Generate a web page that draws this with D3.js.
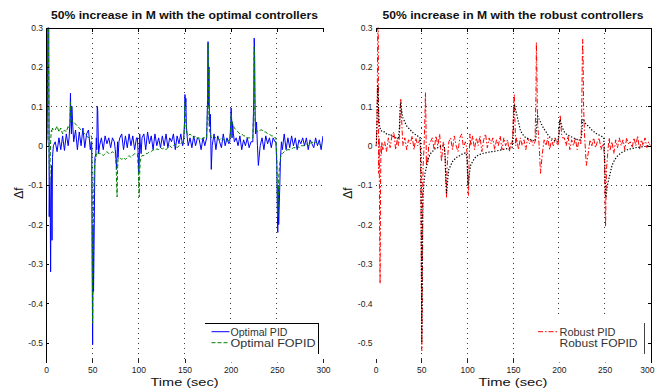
<!DOCTYPE html>
<html>
<head>
<meta charset="utf-8">
<script src="https://cdn.jsdelivr.net/npm/d3@7/dist/d3.min.js"></script>
<style>
  body { margin: 0; background: #fff; }
  svg { display: block; font-family: "Liberation Sans", Arial, Helvetica, sans-serif; }
</style>
</head>
<body>
<svg id="chart" width="655" height="389"></svg>
<script>
// Sample times (sec): 2 s steps between disturbances, 0.5 s steps around them
const time = [
  0, 0.5, 1, 1.5, 2, 2.5, 3, 3.5, 4, 4.5, 5, 5.5, 6, 6.5, 7, 8,
  10, 12, 14, 16, 18, 20, 22, 24,
  25, 26, 26.5, 27, 27.5, 28, 29, 30,
  32, 34, 36, 38, 40, 42, 44, 46, 48,
  49, 49.5, 50, 50.5, 51, 51.5, 52, 53, 54, 54.5, 55, 55.5, 56, 57, 58,
  60, 62, 64, 66, 68, 70, 72, 74,
  75, 76, 76.5, 77, 77.5, 78, 79, 80,
  82, 84, 86, 88, 90, 92, 94, 96, 98,
  99, 100, 100.5, 101, 101.5, 102, 103, 104,
  106, 108, 110, 112, 114, 116, 118, 120, 122, 124, 126,
  128, 130, 132, 134, 136, 138, 140, 142, 144, 146, 148,
  149, 150, 150.5, 151, 151.5, 152, 153, 154,
  156, 158, 160, 162, 164, 166, 168, 170, 172,
  174, 175, 175.5, 176, 176.5, 177, 178, 179, 180,
  182, 184, 186, 188, 190, 192, 194, 196, 198,
  199, 200, 200.5, 201, 201.5, 202, 203, 204,
  206, 208, 210, 212, 214, 216, 218, 220, 222,
  224, 225, 225.5, 226, 226.5, 227, 228, 229, 230,
  232, 234, 236, 238, 240, 242, 244, 246, 248,
  249, 250, 250.5, 251, 251.5, 252, 253, 254, 255, 256,
  258, 260, 262, 264, 266, 268, 270, 272, 274, 276, 278,
  280, 282, 284, 286, 288, 290, 292, 294, 296, 298, 300
];

// Frequency deviation, optimal PID
const optimalPID = [
  0, 0, 0.02, 0.1, 0.3, 0.3, 0.3, -0.18, -0.08, -0.14, -0.32, -0.1, -0.05, -0.24, -0.03, 0.0,
  0.01, -0.015, 0.02, -0.01, 0.025, -0.012, 0.03, 0.0,
  0.02, 0.06, 0.133, 0.07, 0.03, 0.1, 0.05, 0.01,
  0.04, -0.01, 0.035, 0.0, 0.045, -0.005, 0.03, 0.04, -0.01,
  0.01, 0.0, -0.3, -0.505, -0.2, -0.37, -0.265, -0.03, -0.02, 0.02, -0.01, 0.1, 0.09, -0.02, 0.0,
  0.02, -0.01, 0.025, 0.005, 0.02, -0.005, 0.02, 0.01,
  -0.01, -0.04, -0.06, -0.02, 0.01, -0.03, 0.01, 0.02,
  0.03, -0.01, 0.025, -0.005, 0.03, 0.0, 0.025, -0.01, 0.02,
  0.02, -0.03, -0.07, -0.04, 0.03, 0.01, -0.02, 0.02,
  0.03, -0.01, 0.035, 0.005, 0.025, -0.01, 0.03, 0.0, 0.02, -0.005, 0.025,
  0.0, 0.03, -0.005, 0.02, 0.01, 0.03, -0.01, 0.025, 0.005, 0.03, 0.0,
  0.01, 0.06, 0.13, 0.1, 0.12, 0.05, 0.02, 0.0,
  0.02, -0.005, 0.025, 0.0, 0.02, 0.015, -0.01, 0.02, 0.0,
  0.02, 0.12, 0.264, 0.1, 0.2, 0.05, 0.08, -0.06, 0.0,
  0.03, -0.01, 0.025, 0.01, -0.005, 0.03, 0.0, 0.02, 0.005,
  0.01, 0.05, 0.096, 0.07, 0.02, 0.06, 0.03, 0.01,
  0.02, 0.0, 0.025, -0.01, 0.015, 0.0, 0.02, -0.005, 0.01,
  0.01, 0.12, 0.273, 0.22, 0.08, 0.03, 0.06, 0.0, -0.05,
  0.0, 0.02, -0.01, 0.025, 0.005, 0.02, -0.005, 0.02, 0.01,
  0.01, -0.05, -0.15, -0.22, -0.1, -0.2, -0.12, -0.03, 0.01, -0.01,
  0.03, -0.01, 0.02, -0.005, 0.025, 0.0, 0.02, -0.01, 0.015, 0.005, 0.02,
  0.0, 0.02, -0.01, 0.015, 0.005, -0.005, 0.02, 0.0, 0.015, -0.01, 0.025
];

// Frequency deviation, optimal FOPID
const optimalFOPID = [
  0, 0, 0.02, 0.1, 0.3, 0.3, 0.1, -0.05, -0.1, -0.04, 0.01, 0.03, 0.04, 0.035, 0.045, 0.04,
  0.04, 0.05, 0.035, 0.045, 0.03, 0.04, 0.035, 0.05,
  0.045, 0.06, 0.11, 0.09, 0.07, 0.065, 0.06, 0.06,
  0.055, 0.05, 0.045, 0.04, 0.035, 0.03, 0.025, 0.02, 0.025,
  0.025, 0.02, -0.2, -0.45, -0.3, -0.15, -0.08, -0.04, -0.03, -0.025, -0.02, -0.02, -0.015, -0.02, -0.02,
  -0.02, -0.025, -0.02, -0.015, -0.02, -0.02, -0.015, -0.02,
  -0.02, -0.05, -0.1, -0.13, -0.06, -0.035, -0.03, -0.03,
  -0.035, -0.03, -0.035, -0.03, -0.025, -0.03, -0.025, -0.02, -0.02,
  -0.02, -0.06, -0.11, -0.13, -0.07, -0.04, -0.03, -0.025,
  -0.025, -0.02, -0.02, -0.015, -0.015, -0.01, -0.012, -0.008, -0.01, -0.005, -0.008,
  -0.005, -0.01, -0.005, 0.0, -0.005, 0.0, 0.005, -0.005, 0.0, 0.005, 0.01,
  0.01, 0.05, 0.11, 0.08, 0.06, 0.04, 0.03, 0.025,
  0.03, 0.025, 0.02, 0.025, 0.02, 0.02, 0.015, 0.02, 0.02,
  0.02, 0.1, 0.26, 0.15, 0.07, 0.04, 0.03, 0.02, 0.025,
  0.025, 0.02, 0.02, 0.015, 0.02, 0.015, 0.015, 0.01, 0.015,
  0.015, 0.04, 0.08, 0.07, 0.06, 0.055, 0.05, 0.045,
  0.04, 0.035, 0.03, 0.03, 0.025, 0.025, 0.02, 0.02, 0.02,
  0.02, 0.1, 0.25, 0.12, 0.06, 0.04, 0.04, 0.035, 0.035,
  0.04, 0.04, 0.035, 0.035, 0.03, 0.03, 0.025, 0.025, 0.02,
  0.02, -0.03, -0.12, -0.18, -0.15, -0.08, -0.05, -0.03, -0.02, -0.02,
  -0.015, -0.012, -0.01, -0.01, -0.008, -0.005, -0.005, 0.0, -0.005, 0.0, 0.0,
  0.0, 0.005, 0.0, 0.005, 0.01, 0.005, 0.01, 0.005, 0.005, 0.0, 0.0
];

// Frequency deviation, robust PID
const robustPID = [
  0, 0, 0.01, 0.05, 0.15, 0.3, 0.3, -0.07, 0.02, -0.2, -0.35, -0.1, 0.0, -0.02, 0.01, -0.01,
  0.01, -0.015, 0.02, -0.005, 0.025, 0.035, -0.01, 0.02,
  0.0, 0.02, 0.05, 0.09, 0.12, 0.1, 0.04, 0.0,
  0.02, -0.01, 0.015, 0.005, 0.025, -0.01, 0.02, 0.0, 0.015,
  -0.01, -0.1, -0.3, -0.52, -0.4, -0.1, -0.05, 0.0, 0.08, 0.135, 0.07, -0.05, -0.03, -0.04, 0.0,
  0.01, 0.02, -0.01, 0.025, 0.0, 0.03, -0.04, 0.01,
  0.0, -0.03, -0.08, -0.1, -0.133, -0.06, -0.02, 0.01,
  0.02, -0.01, 0.025, 0.0, -0.015, 0.02, 0.03, -0.005, 0.01,
  0.0, -0.02, -0.07, -0.12, -0.127, -0.05, 0.03, 0.0,
  0.025, -0.01, 0.02, 0.0, 0.025, -0.015, 0.015, 0.03, -0.005, 0.02, 0.005,
  0.02, -0.01, 0.015, 0.0, 0.025, -0.01, 0.02, 0.0, 0.015, -0.015, 0.01,
  0.005, 0.04, 0.09, 0.12, 0.13, 0.07, 0.0, 0.02,
  -0.01, 0.02, 0.0, 0.015, -0.01, 0.02, 0.005, 0.015, 0.0,
  0.01, 0.12, 0.262, 0.2, 0.1, 0.05, 0.02, -0.02, -0.07,
  -0.02, 0.015, 0.0, 0.02, -0.01, 0.015, 0.0, 0.02, 0.005,
  0.0, 0.02, 0.04, 0.06, 0.078, 0.06, 0.03, 0.02,
  0.02, 0.0, 0.025, -0.01, 0.015, 0.0, 0.02, -0.01, 0.015,
  0.005, 0.08, 0.2, 0.27, 0.22, 0.1, 0.03, -0.01, -0.05,
  -0.02, 0.015, 0.0, 0.02, -0.005, 0.01, 0.02, -0.01, 0.005,
  0.0, -0.05, -0.15, -0.205, -0.12, -0.06, -0.03, 0.0, 0.02, -0.01,
  0.01, -0.02, 0.015, -0.005, 0.02, 0.0, 0.015, -0.01, 0.02, 0.005, 0.01,
  -0.005, 0.02, 0.0, 0.025, -0.01, 0.015, 0.0, 0.02, -0.005, 0.01, 0.0
];

// Frequency deviation, robust FOPID
const robustFOPID = [
  0, 0, 0.01, 0.04, 0.1, 0.155, 0.12, 0.08, 0.06, 0.05, 0.045, 0.04, 0.04, 0.038, 0.036, 0.035,
  0.035, 0.03, 0.03, 0.025, 0.028, 0.022, 0.02, 0.02,
  0.02, 0.04, 0.07, 0.1, 0.11, 0.1, 0.08, 0.07,
  0.06, 0.05, 0.045, 0.04, 0.035, 0.03, 0.028, 0.025, 0.02,
  0.02, -0.05, -0.25, -0.5, -0.35, -0.2, -0.12, -0.09, -0.07, -0.065, -0.06, -0.055, -0.05, -0.04, -0.03,
  -0.02, -0.015, -0.01, -0.006, -0.005, -0.003, 0.0, 0.0,
  0.0, -0.03, -0.07, -0.1, -0.12, -0.11, -0.08, -0.06,
  -0.05, -0.04, -0.035, -0.03, -0.028, -0.025, -0.022, -0.02, -0.018,
  -0.02, -0.04, -0.08, -0.1, -0.1, -0.08, -0.06, -0.048,
  -0.04, -0.032, -0.027, -0.024, -0.022, -0.02, -0.019, -0.018, -0.017, -0.016, -0.015,
  -0.015, -0.014, -0.013, -0.012, -0.011, -0.01, -0.009, -0.008, -0.007, -0.006, -0.005,
  -0.005, 0.02, 0.06, 0.09, 0.105, 0.1, 0.09, 0.08,
  0.06, 0.04, 0.03, 0.025, 0.02, 0.018, 0.016, 0.015, 0.013,
  0.012, 0.02, 0.04, 0.06, 0.07, 0.075, 0.07, 0.065, 0.06,
  0.05, 0.042, 0.035, 0.028, 0.022, 0.018, 0.015, 0.012, 0.01,
  0.01, 0.03, 0.05, 0.065, 0.066, 0.06, 0.05, 0.045,
  0.035, 0.03, 0.027, 0.024, 0.022, 0.02, 0.018, 0.016, 0.015,
  0.015, 0.03, 0.05, 0.065, 0.068, 0.066, 0.06, 0.057, 0.054,
  0.05, 0.045, 0.04, 0.036, 0.032, 0.029, 0.027, 0.025, 0.022,
  0.02, -0.03, -0.09, -0.13, -0.13, -0.12, -0.1, -0.09, -0.08, -0.07,
  -0.05, -0.04, -0.032, -0.026, -0.022, -0.018, -0.015, -0.013, -0.011, -0.009, -0.008,
  -0.007, -0.006, -0.005, -0.004, -0.004, -0.003, -0.002, -0.002, -0.001, -0.001, 0.0
];

const xTicks = [0, 50, 100, 150, 200, 250, 300];
const xTickLabels = ["0", "50", "100", "150", "200", "250", "300"];
const yTicks = [0.3, 0.2, 0.1, 0, -0.1, -0.2, -0.3, -0.4, -0.5];
const yTickLabels = ["0.3", "0.2", "0.1", "0", "-0.1", "-0.2", "-0.3", "-0.4", "-0.5"];
const gridX = [50, 100, 150, 200, 250];
const gridY = [0.1, -0.1];

const panelTitles = [
  "50% increase in M with the optimal controllers",
  "50% increase in M with the robust controllers"
];
const legendLabels = [
  ["Optimal PID", "Optimal FOPID"],
  ["Robust PID", "Robust FOPID"]
];

const svg = d3.select("#chart");
const plotTop = 27.5, plotBottom = 362.5;
const y = d3.scaleLinear().domain([-0.55, 0.3]).range([plotBottom, plotTop]);

const panels = [
  {
    id: "opt", left: 46, right: 323, title: panelTitles[0], titleLen: 267, xLabelLen: 68,
    leftAxis: true, rightAxis: false, ylabelX: 19,
    series: [
      { values: optimalPID, color: "#0000ff", dash: null, width: 1 },
      { values: optimalFOPID, color: "#008000", dash: "4,2", width: 1 }
    ],
    legend: { x: 205, y: 323, w: 113, sampleX0: 211.5, sampleX1: 229.5, textX: 230.5,
              labels: legendLabels[0], lenA: 57, lenB: 85, topLine: true, hideSecondSample: false }
  },
  {
    id: "rob", left: 375.5, right: 650.5, title: panelTitles[1], titleLen: 261, xLabelLen: 69,
    leftAxis: false, rightAxis: true, ylabelX: 348,
    series: [
      { values: robustPID, color: "#ff0000", dash: "5,2,1.5,2", width: 1 },
      { values: robustFOPID, color: "#000000", dash: "1.3,1.7", width: 1.2 }
    ],
    legend: { x: 533, y: 318, w: 111.5, sampleX0: 538, sampleX1: 558, textX: 559.5,
              labels: legendLabels[1], lenA: 56, lenB: 78, topLine: false, hideSecondSample: true }
  }
];

panels.forEach(p => {
  const x = d3.scaleLinear().domain([0, 300]).range([p.left, p.right]);
  const g = svg.append("g");

  g.append("clipPath").attr("id", "clip-" + p.id)
    .append("rect")
    .attr("x", p.left).attr("y", plotTop)
    .attr("width", p.right - p.left).attr("height", plotBottom - plotTop);

  // dotted grid
  const grid = g.append("g").attr("stroke", "#3a3a3a").attr("stroke-width", 1)
    .attr("stroke-dasharray", "1,4").attr("shape-rendering", "crispEdges");
  grid.selectAll(".gx").data(gridX).join("line")
    .attr("x1", d => x(d)).attr("x2", d => x(d))
    .attr("y1", plotTop).attr("y2", plotBottom);
  grid.selectAll(".gy").data(gridY).join("line")
    .attr("x1", p.left).attr("x2", p.right)
    .attr("y1", d => y(d)).attr("y2", d => y(d));

  // response curves
  const line = d3.line().x((d, i) => x(time[i])).y(d => y(d)).defined((d, i) => time[i] !== undefined);
  p.series.forEach(s => {
    g.append("path").datum(s.values)
      .attr("clip-path", `url(#clip-${p.id})`)
      .attr("d", line)
      .attr("fill", "none")
      .attr("stroke", s.color)
      .attr("stroke-width", s.width)
      .attr("stroke-dasharray", s.dash);
  });

  // top frame with inward ticks
  const topAxis = g.append("g").attr("transform", `translate(0,${plotTop})`)
    .call(d3.axisTop(x).tickValues(xTicks).tickSize(-4).tickSizeOuter(0).tickFormat(""));
  topAxis.selectAll("path,line").attr("stroke", "#000").attr("shape-rendering", "crispEdges");

  // bottom tick labels (no visible frame line)
  const bottomAxis = g.append("g").attr("transform", `translate(0,${plotBottom})`)
    .call(d3.axisBottom(x).tickValues(xTicks).tickSize(-4).tickSizeOuter(0).tickPadding(4)
      .tickFormat((d, i) => xTickLabels[i]));
  bottomAxis.select(".domain").remove();
  bottomAxis.selectAll("line").attr("stroke", "#222").attr("shape-rendering", "crispEdges");
  bottomAxis.selectAll("text").attr("font-size", 8.5).attr("fill", "#1a1a1a")
    .attr("font-family", "'Liberation Sans', Arial, sans-serif");
  // keep the last label of the right panel inside the page
  if (p.rightAxis) {
    bottomAxis.selectAll("text").filter(d => d === 300)
      .attr("text-anchor", "end").attr("x", 654 - p.right);
  }

  // left axis with tick labels
  const leftAxis = g.append("g").attr("transform", `translate(${p.left},0)`)
    .call(d3.axisLeft(y).tickValues(yTicks).tickSize(p.leftAxis ? -3 : 0).tickSizeOuter(0).tickPadding(3)
      .tickFormat((d, i) => yTickLabels[i]));
  if (!p.leftAxis) leftAxis.select(".domain").remove();
  leftAxis.selectAll("path,line").attr("stroke", "#000").attr("shape-rendering", "crispEdges");
  leftAxis.selectAll("text").attr("font-size", 8.5).attr("fill", "#1a1a1a")
    .attr("font-family", "'Liberation Sans', Arial, sans-serif");

  if (p.rightAxis) {
    const rightAxis = g.append("g").attr("transform", `translate(${p.right},0)`)
      .call(d3.axisRight(y).tickValues(yTicks).tickSize(-3).tickSizeOuter(0).tickFormat(""));
    rightAxis.selectAll("path,line").attr("stroke", "#000").attr("shape-rendering", "crispEdges");
  }

  // legend
  const L = p.legend;
  const lg = g.append("g");
  lg.append("rect").attr("x", L.x).attr("y", L.y).attr("width", L.w).attr("height", plotBottom - L.y)
    .attr("fill", "#fff");
  if (L.topLine) {
    lg.append("line").attr("x1", L.x).attr("x2", L.x + L.w).attr("y1", 323).attr("y2", 323)
      .attr("stroke", "#000").attr("shape-rendering", "crispEdges");
  }
  lg.append("line").attr("x1", L.x + L.w).attr("x2", L.x + L.w).attr("y1", 323).attr("y2", 354)
    .attr("stroke", L.topLine ? "#000" : "#444")
    .attr("stroke-width", L.topLine ? 1 : 1.5).attr("shape-rendering", "crispEdges");
  const rows = [331.7, 342.7];
  p.series.forEach((s, i) => {
    lg.append("line").attr("x1", L.sampleX0).attr("x2", L.sampleX1)
      .attr("y1", rows[i]).attr("y2", rows[i])
      .attr("stroke", s.color).attr("stroke-width", 1).attr("stroke-dasharray", s.dash)
      .attr("opacity", (L.hideSecondSample && i === 1) ? 0 : 1);
    lg.append("text").attr("x", L.textX).attr("y", rows[i] + 4)
      .attr("font-size", 10.5).attr("fill", "#333")
      .attr("textLength", i === 0 ? L.lenA : L.lenB).attr("lengthAdjust", "spacingAndGlyphs")
      .text(L.labels[i]);
  });

  // title
  const cx = (p.left + p.right) / 2;
  g.append("text").attr("x", cx).attr("y", 18.5).attr("text-anchor", "middle")
    .attr("font-size", 10.5).attr("font-weight", "bold").attr("fill", "#111")
    .attr("textLength", p.titleLen).attr("lengthAdjust", "spacingAndGlyphs")
    .text(p.title);

  // x label
  g.append("text").attr("x", cx).attr("y", 386).attr("text-anchor", "middle")
    .attr("font-size", 11.5).attr("fill", "#111")
    .attr("textLength", p.xLabelLen).attr("lengthAdjust", "spacingAndGlyphs")
    .text("Time (sec)");

  // y label
  g.append("text").attr("transform", `translate(${p.ylabelX + 4},193) rotate(-90)`)
    .attr("text-anchor", "middle").attr("font-size", 12).attr("fill", "#111")
    .text("Δf");
});
</script>
</body>
</html>
